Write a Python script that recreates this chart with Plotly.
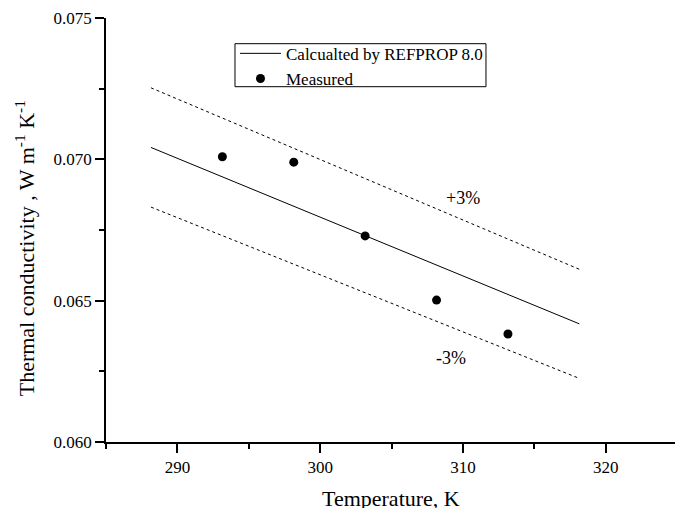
import plotly.graph_objects as go

# Data
calc_T = [288.15, 293.15, 298.15, 303.15, 308.15, 313.15, 318.15]
calc_k = [0.07042, 0.06938, 0.06834, 0.06730, 0.06626, 0.06522, 0.06418]
upper_k = [0.07253, 0.07146, 0.07039, 0.06932, 0.06825, 0.06718, 0.06611]
lower_k = [0.06831, 0.06730, 0.06629, 0.06528, 0.06427, 0.06326, 0.06225]
meas_T = [293.15, 298.15, 303.15, 308.15, 313.15]
meas_k = [0.07009, 0.06990, 0.06729, 0.06502, 0.06382]

FONT = "Liberation Serif, Times New Roman, serif"

fig = go.Figure()
fig.add_trace(go.Scatter(x=calc_T, y=upper_k, mode="lines", showlegend=False,
                         line=dict(color="black", width=1, dash="3px,3px")))
fig.add_trace(go.Scatter(x=calc_T, y=lower_k, mode="lines", showlegend=False,
                         line=dict(color="black", width=1, dash="3px,3px")))
fig.add_trace(go.Scatter(x=calc_T, y=calc_k, mode="lines",
                         name="Calcualted by REFPROP 8.0",
                         line=dict(color="black", width=1)))
fig.add_trace(go.Scatter(x=meas_T, y=meas_k, mode="markers", name="Measured",
                         marker=dict(color="black", size=9, symbol="circle")))

axis_common = dict(
    showline=True, linecolor="black", linewidth=1.5, showgrid=False, zeroline=False,
    ticks="outside", ticklen=9, tickwidth=1.5, tickcolor="black",
    tickfont=dict(family=FONT, size=17, color="black"),
    minor=dict(ticks="outside", ticklen=5, tickwidth=1.5, tickcolor="black", showgrid=False),
)

fig.update_xaxes(range=[285, 324.85], tickvals=[290, 300, 310, 320],
                 minor_tickvals=[285, 295, 305, 315], **axis_common)
fig.update_yaxes(range=[0.060, 0.075], tickvals=[0.060, 0.065, 0.070, 0.075],
                 ticktext=["0.060", "0.065", "0.070", "0.075"],
                 minor_tickvals=[0.0625, 0.0675, 0.0725], **axis_common)

fig.add_annotation(x=310.0, y=0.06864, text="+3%", showarrow=False,
                   font=dict(family=FONT, size=18, color="black"))
fig.add_annotation(x=309.19, y=0.06298, text="-3%", showarrow=False,
                   font=dict(family=FONT, size=18, color="black"))
fig.add_annotation(x=0.501, y=-0.100, xref="paper", yref="paper", text="Temperature, K",
                   showarrow=False, xanchor="center", yanchor="top",
                   font=dict(family=FONT, size=22, color="black"))
fig.add_annotation(x=-0.143, y=0.456, xref="paper", yref="paper",
                   text="Thermal conductivity , W m<sup>-1</sup> K<sup>-1</sup>",
                   textangle=-90, showarrow=False, xanchor="center", yanchor="middle",
                   font=dict(family=FONT, size=22, color="black"))

# legend frame
fig.add_shape(type="rect", xref="paper", yref="paper",
              x0=0.2267, x1=0.6678, y0=0.838, y1=0.9394,
              line=dict(color="black", width=1), fillcolor="white", layer="below")

fig.update_layout(
    width=675, height=508,
    margin=dict(l=106, r=0, t=18, b=66),
    font=dict(family=FONT, color="black"),
    plot_bgcolor="white", paper_bgcolor="white",
    legend=dict(x=0.2267, y=0.958, xanchor="left", yanchor="top",
                borderwidth=0, bgcolor="rgba(0,0,0,0)",
                font=dict(family=FONT, size=17, color="black"),
                tracegroupgap=0, itemwidth=41),
)

fig.write_html("out.html", config={"displayModeBar": False},
               post_script="document.body.style.margin='0';document.body.style.overflow='hidden';")
